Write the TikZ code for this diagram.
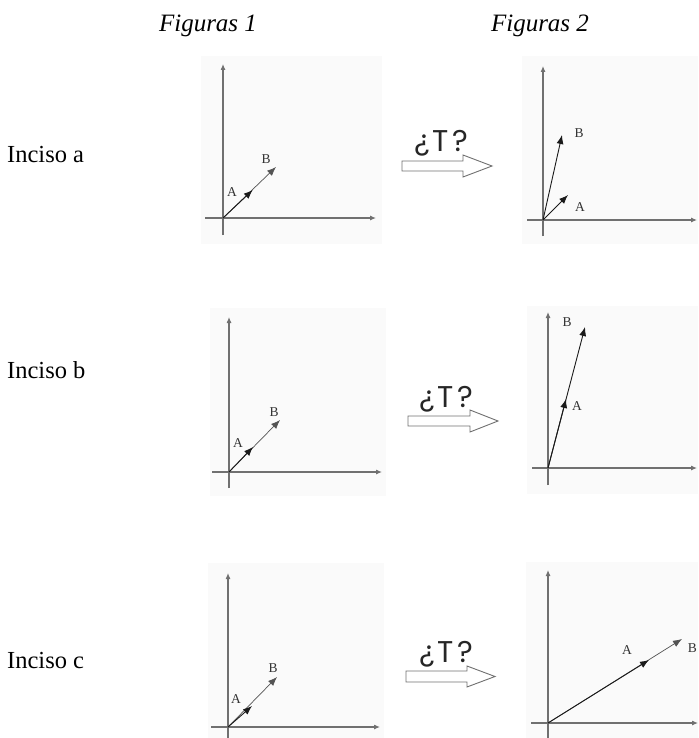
\documentclass[tikz,border=0pt]{standalone}
\usepackage{fontspec}
\setmainfont{Liberation Serif}
\newfontfamily\gothic{Poppins}
\usepackage{tikz}
\usetikzlibrary{arrows.meta}
\definecolor{Axis}{HTML}{707070}
\definecolor{Vec}{HTML}{1A1A1A}
\definecolor{Pane}{HTML}{FAFAFA}
\definecolor{Label}{HTML}{333333}

\tikzset{
  axis/.style={Axis,line width=1.1pt,-{Latex[length=6pt,width=5pt]}},
  vec/.style={Vec,line width=0.9pt,-{Latex[length=9pt,width=7pt]}},
  vecpale/.style={Vec!75,line width=0.7pt,-{Latex[length=9pt,width=7pt]}},
  vlabel/.style={text=Label,inner sep=0pt,font=\fontsize{13.5}{15}\selectfont},
  header/.style={anchor=base,inner sep=0pt,font=\fontsize{25}{28}\selectfont\itshape},
  rowlabel/.style={anchor=base west,inner sep=0pt,font=\fontsize{24.5}{28}\selectfont},
  tlabel/.style={anchor=base,inner sep=0pt,text=black!85,font=\fontsize{30}{34}\selectfont\gothic},
  hollow/.style={draw=Axis,fill=white,line width=0.9pt,line join=miter}
}

\begin{document}
\begin{tikzpicture}[x=1pt,y=-1pt]
    \useasboundingbox (0,0) rectangle (698,738);

    \node[header] (fig1) at (208,31.7) {Figuras 1};
    \node[header] (fig2) at (540,31.7) {Figuras 2};

    % Inciso a
    \node[rowlabel] (inca) at (7,163) {Inciso a};
    \fill[Pane] (201,56) rectangle (382,244);
    \coordinate (o1a) at (223,218);
    \coordinate (xl1a) at (205,218); \coordinate (xr1a) at (376,218);
    \coordinate (yb1a) at (223,235); \coordinate (yt1a) at (223,64);
    \coordinate (a1a) at (252.7,190); \coordinate (b1a) at (276,167);
    \draw[axis] (xl1a) -- (xr1a);
    \draw[axis] (yb1a) -- (yt1a);
    \draw[vecpale] (o1a) -- (b1a);
    \draw[vec] (o1a) -- (a1a);
    \node[vlabel] (la1a) at (232,192) {A};
    \node[vlabel] (lb1a) at (266,159) {B};

    \node[tlabel] (ta) at (441,152) {¿\kern3pt T\kern3pt ?};
    \draw[hollow] (402,161) -- (463,161) -- (463,155) -- (492,166) -- (463,177) -- (463,171) -- (402,171) -- cycle;

    \fill[Pane] (522,56) rectangle (698,244);
    \coordinate (o2a) at (543,220);
    \coordinate (xl2a) at (527,220); \coordinate (xr2a) at (697,220);
    \coordinate (yb2a) at (543,236); \coordinate (yt2a) at (543,66);
    \coordinate (a2a) at (568,195); \coordinate (b2a) at (562,135);
    \draw[axis] (xl2a) -- (xr2a);
    \draw[axis] (yb2a) -- (yt2a);
    \draw[vec] (o2a) -- (b2a);
    \draw[vec] (o2a) -- (a2a);
    \node[vlabel] (lb2a) at (579,133) {B};
    \node[vlabel] (la2a) at (580,207) {A};

    % Inciso b
    \node[rowlabel] (incb) at (7,378) {Inciso b};
    \fill[Pane] (210,308) rectangle (386,496);
    \coordinate (o1b) at (229,472);
    \coordinate (xl1b) at (212,472); \coordinate (xr1b) at (382,472);
    \coordinate (yb1b) at (229,488); \coordinate (yt1b) at (229,317);
    \coordinate (a1b) at (253,447); \coordinate (b1b) at (280,420);
    \draw[axis] (xl1b) -- (xr1b);
    \draw[axis] (yb1b) -- (yt1b);
    \draw[vecpale] (o1b) -- (b1b);
    \draw[vec] (o1b) -- (a1b);
    \node[vlabel] (la1b) at (238,443) {A};
    \node[vlabel] (lb1b) at (274,412) {B};

    \node[tlabel] (tb) at (446,407) {¿\kern3pt T\kern3pt ?};
    \draw[hollow] (408,416) -- (470,416) -- (470,410) -- (498,421) -- (470,432) -- (470,426) -- (408,426) -- cycle;

    \fill[Pane] (527,306) rectangle (698,494);
    \coordinate (o2b) at (548,468);
    \coordinate (xl2b) at (532,468); \coordinate (xr2b) at (697,468);
    \coordinate (yb2b) at (548,485); \coordinate (yt2b) at (548,312);
    \coordinate (a2b) at (566,399); \coordinate (b2b) at (585,327);
    \draw[axis] (xl2b) -- (xr2b);
    \draw[axis] (yb2b) -- (yt2b);
    \draw[vec] (o2b) -- (b2b);
    \draw[vec] (o2b) -- (a2b);
    \node[vlabel] (lb2b) at (567,322) {B};
    \node[vlabel] (la2b) at (577,406) {A};

    % Inciso c
    \node[rowlabel] (incc) at (7,668) {Inciso c};
    \fill[Pane] (208,563) rectangle (384,738);
    \coordinate (o1c) at (228,727);
    \coordinate (xl1c) at (211,727); \coordinate (xr1c) at (380,727);
    \coordinate (yb1c) at (228,738); \coordinate (yt1c) at (228,573);
    \coordinate (a1c) at (252,706); \coordinate (b1c) at (277,677);
    \draw[axis] (xl1c) -- (xr1c);
    \draw[axis] (yb1c) -- (yt1c);
    \draw[vecpale] (o1c) -- (b1c);
    \draw[vec] (o1c) -- (a1c);
    \node[vlabel] (la1c) at (236,699) {A};
    \node[vlabel] (lb1c) at (273,668) {B};

    \node[tlabel] (tc) at (446,662) {¿\kern3pt T\kern3pt ?};
    \draw[hollow] (406,671) -- (467,671) -- (467,666) -- (495,676.5) -- (467,687) -- (467,682) -- (406,682) -- cycle;

    \fill[Pane] (526,562) rectangle (698,738);
    \coordinate (o2c) at (548,723);
    \coordinate (xl2c) at (531,723); \coordinate (xr2c) at (698,723);
    \coordinate (yb2c) at (548,738); \coordinate (yt2c) at (548,570);
    \coordinate (a2c) at (649,660); \coordinate (b2c) at (682,639);
    \draw[axis] (xl2c) -- (xr2c);
    \draw[axis] (yb2c) -- (yt2c);
    \draw[vecpale] (o2c) -- (b2c);
    \draw[vec] (o2c) -- (a2c);
    \node[vlabel] (la2c) at (627,650) {A};
    \node[vlabel,anchor=east] (lb2c) at (697,648) {B};
  \end{tikzpicture}
\end{document}
